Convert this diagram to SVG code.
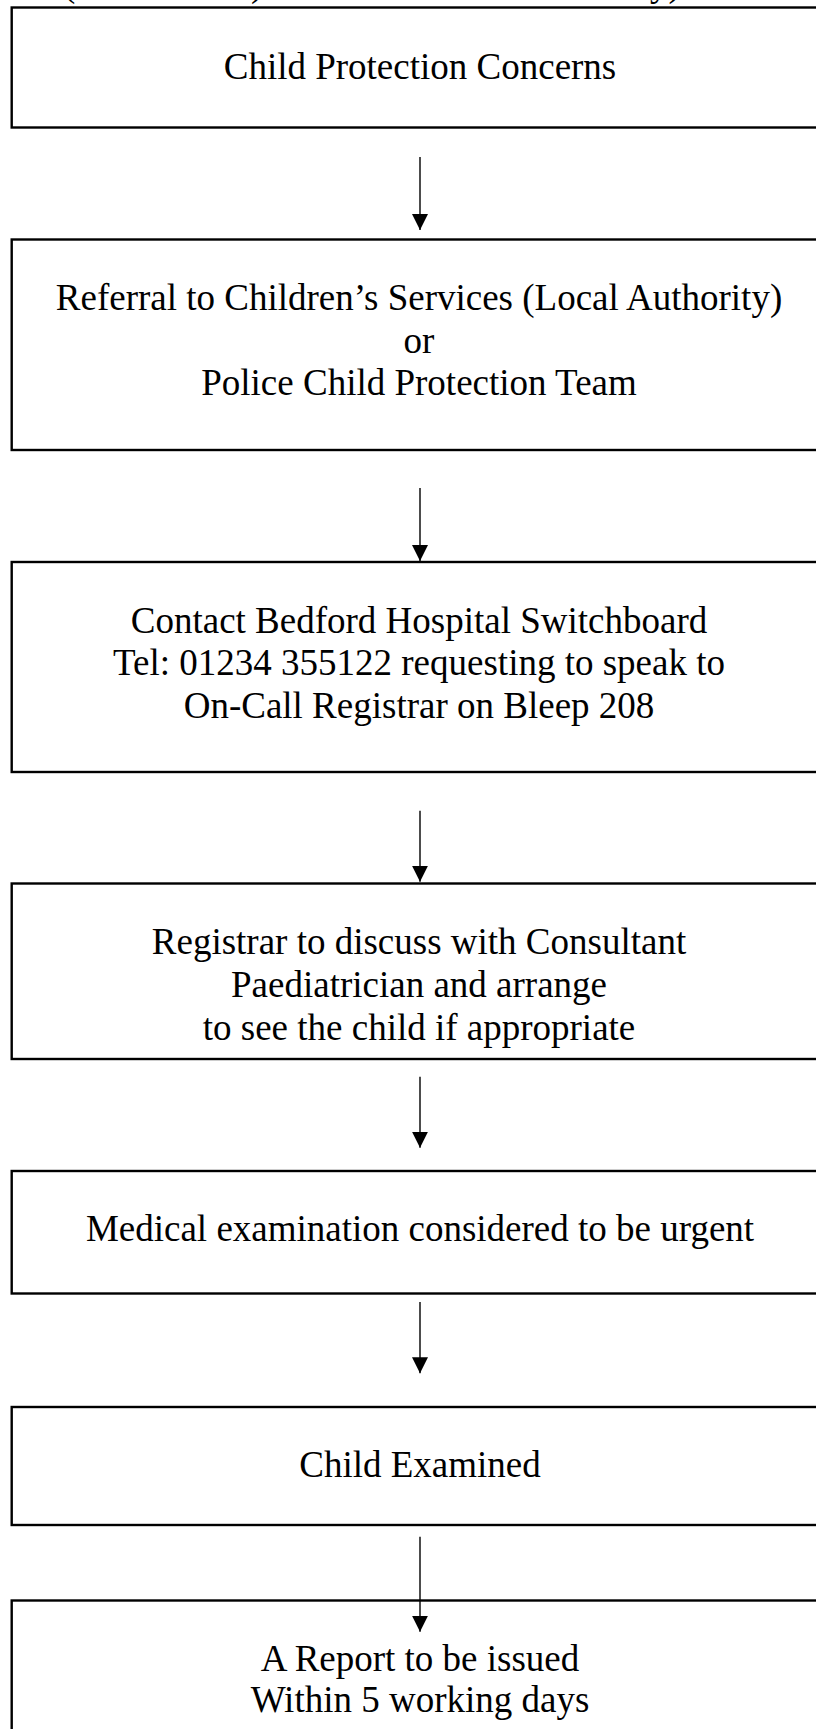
<svg xmlns="http://www.w3.org/2000/svg" width="816" height="1729" viewBox="0 0 816 1729">
<style>
.box{fill:#fff;stroke:#000;stroke-width:2.4}
.t{font-family:"Liberation Serif","Times New Roman",serif;font-size:37px;fill:#000;text-anchor:middle}
.frag{font-family:"Liberation Serif","Times New Roman",serif;font-size:37px;fill:#000}
.c{stroke:#000;stroke-width:1.4;fill:none;marker-end:url(#ah)}
</style>
<defs>
<marker id="ah" markerUnits="userSpaceOnUse" markerWidth="16" markerHeight="16" refX="16" refY="8" orient="auto" viewBox="0 0 16 16">
<path d="M0,0 L16,8 L0,16 Z" fill="#000"/>
</marker>
</defs>
<rect width="816" height="1729" fill="#fff"/>
<g id="header-fragment">
<text class="frag" x="63" y="-4">(</text>
<text class="frag" x="251" y="-4">)</text>
<text class="frag" x="650" y="-4">y)</text>
</g>
<g id="n1">
<rect class="box" x="11.7" y="7.5" width="820" height="120"/>
<text class="t" x="420" y="79">Child Protection Concerns</text>
</g>
<g id="n2">
<rect class="box" x="11.7" y="239.5" width="820" height="210.5"/>
<text class="t" x="419" y="310">Referral to Children’s Services (Local Authority)</text>
<text class="t" x="419" y="352.5">or</text>
<text class="t" x="419" y="395">Police Child Protection Team</text>
</g>
<g id="n3">
<rect class="box" x="11.7" y="562" width="820" height="210"/>
<text class="t" x="419" y="632.7">Contact Bedford Hospital Switchboard</text>
<text class="t" x="419" y="675">Tel: 01234 355122 requesting to speak to</text>
<text class="t" x="419" y="718">On-Call Registrar on Bleep 208</text>
</g>
<g id="n4">
<rect class="box" x="11.7" y="883.5" width="820" height="175.5"/>
<text class="t" x="419" y="954">Registrar to discuss with Consultant</text>
<text class="t" x="419" y="997.3">Paediatrician and arrange</text>
<text class="t" x="419" y="1040">to see the child if appropriate</text>
</g>
<g id="n5">
<rect class="box" x="11.7" y="1171" width="820" height="122.5"/>
<text class="t" x="420" y="1240.7">Medical examination considered to be urgent</text>
</g>
<g id="n6">
<rect class="box" x="11.7" y="1407" width="820" height="118"/>
<text class="t" x="420" y="1477.3">Child Examined</text>
</g>
<g id="n7">
<rect class="box" x="11.7" y="1600.5" width="820" height="200"/>
<text class="t" x="420" y="1670.7">A Report to be issued</text>
<text class="t" x="420" y="1711.7">Within 5 working days</text>
</g>
<g id="connectors">
<line class="c" x1="420" y1="157" x2="420" y2="230"/>
<line class="c" x1="420" y1="488" x2="420" y2="561"/>
<line class="c" x1="420" y1="810.7" x2="420" y2="881.7"/>
<line class="c" x1="420" y1="1076.7" x2="420" y2="1147.7"/>
<line class="c" x1="420" y1="1302" x2="420" y2="1373.3"/>
<line class="c" x1="420" y1="1536.7" x2="420" y2="1631.7"/>
</g>
</svg>
